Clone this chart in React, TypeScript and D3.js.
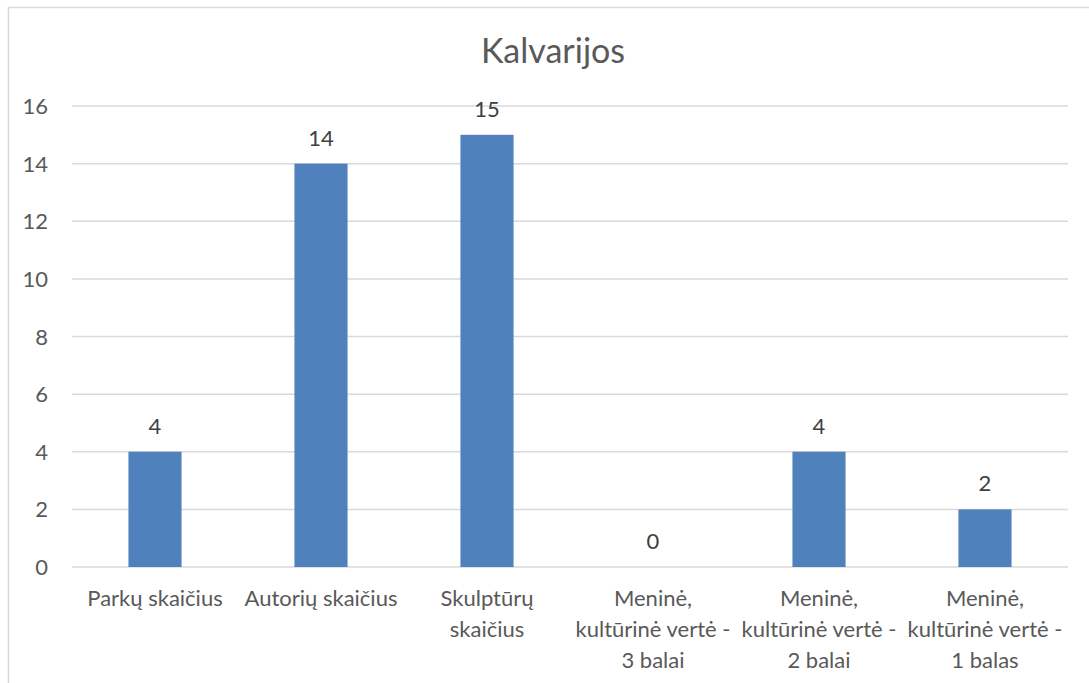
import React from 'react'
import * as d3 from 'd3'

const categories = [
  ['Parkų skaičius'],
  ['Autorių skaičius'],
  ['Skulptūrų', 'skaičius'],
  ['Meninė,', 'kultūrinė vertė -', '3 balai'],
  ['Meninė,', 'kultūrinė vertė -', '2 balai'],
  ['Meninė,', 'kultūrinė vertė -', '1 balas'],
]
const values = [4, 14, 15, 0, 4, 2]
const yTicks = [0, 2, 4, 6, 8, 10, 12, 14, 16]

const W = 1089
const H = 683
const font = 'Lato, "Open Sans", sans-serif'

export default function App() {
  const x = d3.scaleBand<number>()
    .domain(d3.range(values.length))
    .range([72, 1068])
    .paddingInner(0.68)
    .paddingOuter(0.34)
  const y = d3.scaleLinear().domain([0, 16]).range([567, 106])
  const band = (1068 - 72) / values.length

  return (
    <svg width={W} height={H} style={{ position: 'absolute', left: 0, top: 0, fontFamily: font }}>
      <rect x={0} y={0} width={W} height={H} fill="#fff" />
      <rect x={8.5} y={7.5} width={W + 10} height={H + 10} fill="none" stroke="#d9d9d9" strokeWidth={1.5} />
      <text x={553} y={63} textAnchor="middle" fontSize={34} fill="#595959">Kalvarijos</text>

      {yTicks.map(t => (
        <g key={t}>
          <line x1={72} x2={1068} y1={y(t)} y2={y(t)} stroke="#d9d9d9" strokeWidth={1.5} />
          <text x={48} y={y(t) + 8} textAnchor="end" fontSize={22} fill="#595959">{t}</text>
        </g>
      ))}

      {values.map((v, i) => (
        <g key={i}>
          <rect x={x(i)} y={y(v)} width={x.bandwidth()} height={y(0) - y(v)} fill="#4f81bd" />
          <text x={(x(i) as number) + x.bandwidth() / 2} y={y(v) - 18} textAnchor="middle" fontSize={22} fill="#404040">{v}</text>
        </g>
      ))}

      {categories.map((lines, i) => (
        <text key={i} x={72 + band * (i + 0.5)} y={606} textAnchor="middle" fontSize={22} fill="#595959">
          {lines.map((l, j) => (
            <tspan key={j} x={72 + band * (i + 0.5)} dy={j === 0 ? 0 : 31}>{l}</tspan>
          ))}
        </text>
      ))}
    </svg>
  )
}
